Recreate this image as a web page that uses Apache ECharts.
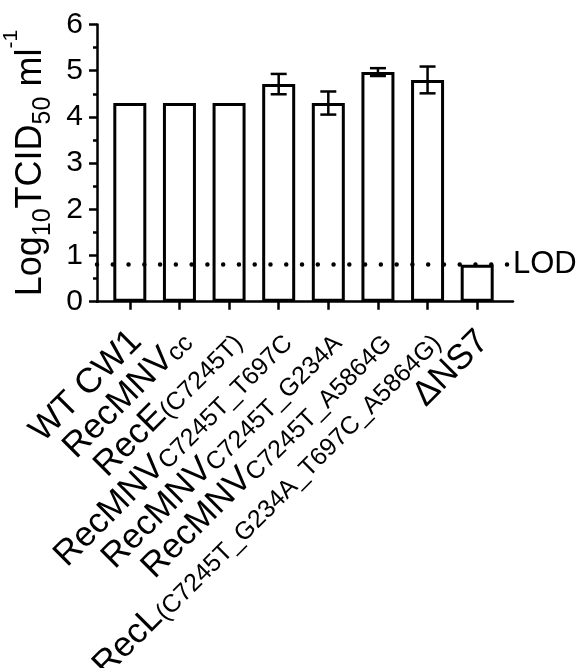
<!DOCTYPE html>
<html>
<head>
<meta charset="utf-8">
<script src="https://cdn.jsdelivr.net/npm/echarts@6/dist/echarts.min.js"></script>
<style>
  html, body { margin: 0; padding: 0; background: #fff; }
  #chart { width: 587px; height: 668px; }
</style>
</head>
<body>
<div id="chart"></div>
<script>
// ---- data ----
const catMain = ['WT CW1', 'RecMNV', 'RecE', 'RecMNV', 'RecMNV', 'RecMNV', 'RecL', '\u0394NS7'];
const catSub = ['', 'cc', '(C7245T)', 'C7245T_T697C', 'C7245T_G234A', 'C7245T_A5864G', '(C7245T_G234A_T697C_A5864G)', ''];
const categories = catMain.map((m, i) => m + catSub[i]);
const values = [4.30, 4.30, 4.30, 4.71, 4.30, 4.97, 4.80, 0.80];
const errors = [0, 0, 0, 0.22, 0.25, 0.085, 0.29, 0];
const lod = 0.8;
const yTicks = [0, 1, 2, 3, 4, 5, 6];

const FONT = 'Liberation Sans, Arial, Helvetica, sans-serif';
const chart = echarts.init(document.getElementById('chart'), null, { renderer: 'canvas' });

const gridTop = 24.5, gridBottom = 366.3;

chart.setOption({
  animation: false,
  backgroundColor: '#fff',
  grid: [
    { left: 105, right: 85, top: gridTop, bottom: gridBottom, containLabel: false, outerBoundsMode: 'none' },
    { left: 97, right: 74, top: gridTop, bottom: gridBottom, containLabel: false, outerBoundsMode: 'none' }
  ],
  xAxis: [
    {
      type: 'category', gridIndex: 0, data: categories,
      axisLine: { show: false },
      axisTick: { show: true, alignWithLabel: true, length: 8, lineStyle: { color: '#000', width: 2.5 } },
      axisLabel: {
        rotate: 45, margin: 28, interval: 0, color: '#000', fontFamily: FONT,
        padding: [18, 0, 0, 0],
        formatter: function (v, i) {
          return '{m|' + catMain[i] + '}' + (catSub[i] ? '{s|' + catSub[i] + '}' : '');
        },
        rich: {
          m: { fontSize: 35, lineHeight: 35, padding: [0, 0, 0, 0], verticalAlign: 'bottom', fontFamily: FONT, color: '#000' },
          s: { fontSize: 25, lineHeight: 25, padding: [0, 0, 0, 0], verticalAlign: 'bottom', fontFamily: FONT, color: '#000' }
        }
      },
      splitLine: { show: false }
    },
    {
      type: 'value', gridIndex: 1, min: 0, max: 1,
      axisLine: { show: true, lineStyle: { color: '#000', width: 2.5 } },
      axisTick: { show: false }, axisLabel: { show: false }, splitLine: { show: false }
    }
  ],
  yAxis: [
    { type: 'value', gridIndex: 0, min: 0, max: 6, interval: 1, show: false },
    {
      type: 'value', gridIndex: 1, min: yTicks[0], max: yTicks[yTicks.length - 1], interval: 1,
      axisLine: { show: true, lineStyle: { color: '#000', width: 2.5 } },
      axisTick: { show: true, length: 8, lineStyle: { color: '#000', width: 2.5 } },
      minorTick: { show: true, splitNumber: 2, length: 4, lineStyle: { color: '#000', width: 2.5 } },
      splitLine: { show: false },
      axisLabel: { fontSize: 30, color: '#000', fontFamily: FONT, margin: 14 },
      name: '{m|Log}{s|10}{m|TCID}{s|50}{m| ml}{p|-1}',
      nameLocation: 'middle', nameRotate: 90, nameGap: 33,
      nameTextStyle: {
        color: '#000', fontFamily: FONT,
        rich: {
          m: { fontSize: 36, lineHeight: 36, padding: [0, 0, 6, 0], verticalAlign: 'bottom', fontFamily: FONT, color: '#000' },
          s: { fontSize: 25, lineHeight: 25, verticalAlign: 'bottom', fontFamily: FONT, color: '#000' },
          p: { fontSize: 21, lineHeight: 21, padding: [0, 0, 34, 0], verticalAlign: 'bottom', fontFamily: FONT, color: '#000' }
        }
      }
    }
  ],
  series: [
    {
      type: 'bar', xAxisIndex: 0, yAxisIndex: 0, data: values, barWidth: 33,
      itemStyle: { color: '#fff', borderColor: '#000', borderWidth: 3 },
      z: 2
    },
    {
      type: 'custom', xAxisIndex: 0, yAxisIndex: 0, z: 3,
      data: categories.map((c, i) => [i, values[i], errors[i]]),
      renderItem: function (params, api) {
        const i = api.value(0), v = api.value(1), e = api.value(2);
        if (!e) return null;
        const hi = api.coord([i, v + e]);
        const lo = api.coord([i, v - e]);
        const hw = 8;
        const st = { stroke: '#000', lineWidth: 2.5 };
        return {
          type: 'group',
          children: [
            { type: 'line', shape: { x1: hi[0], y1: hi[1], x2: lo[0], y2: lo[1] }, style: st },
            { type: 'line', shape: { x1: hi[0] - hw, y1: hi[1], x2: hi[0] + hw, y2: hi[1] }, style: st },
            { type: 'line', shape: { x1: lo[0] - hw, y1: lo[1], x2: lo[0] + hw, y2: lo[1] }, style: st }
          ]
        };
      }
    },
    {
      type: 'line', xAxisIndex: 1, yAxisIndex: 1, data: [], z: 5,
      markLine: {
        silent: true, symbol: 'none',
        data: [{ yAxis: lod }],
        lineStyle: { color: '#000', width: 4.5, type: [0.01, 15.76], cap: 'round' },
        label: { show: true, position: 'end', formatter: 'LOD', fontSize: 31, color: '#000', fontFamily: FONT, distance: 0 }
      }
    }
  ]
});
</script>
</body>
</html>
